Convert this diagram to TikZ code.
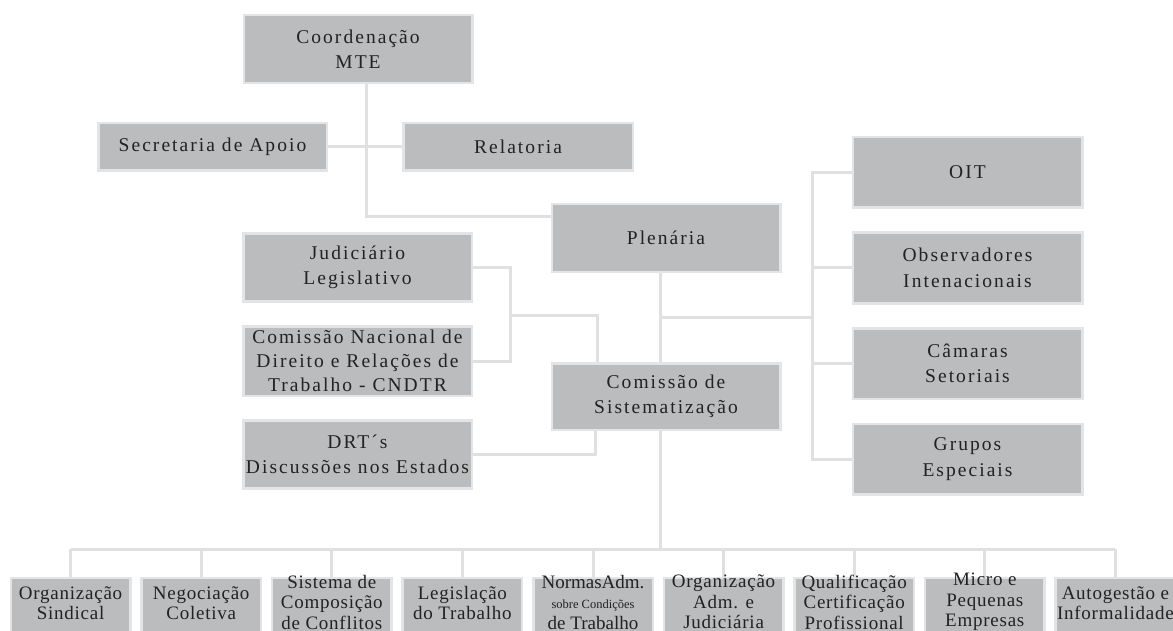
\documentclass[tikz,border=0pt]{standalone}
\usepackage{fontspec}
\setmainfont{Liberation Serif}
\newfontfamily\spacedserif[LetterSpace=10.5]{Liberation Serif}
\newfontfamily\slightserif[LetterSpace=4]{Liberation Serif}
\usetikzlibrary{backgrounds}
\definecolor{boxfill}{HTML}{BBBCBE}
\definecolor{boxedge}{HTML}{E3E4E5}
\definecolor{wirecol}{HTML}{E0E0E0}
\definecolor{txtcol}{HTML}{222222}
\begin{document}
\begin{tikzpicture}[x=1pt,y=-1pt,
  box/.style={draw=boxedge, line width=2.5pt, fill=boxfill, inner sep=0pt,
    minimum width=228.5pt, minimum height=68pt, align=center, text=txtcol,
    font=\spacedserif\fontsize{19.5}{25.5}\selectfont},
  lowbox/.style={draw=boxedge, line width=2.5pt, fill=boxfill, inner sep=0pt,
    minimum width=119.5pt, minimum height=62pt},
  lowtext/.style={inner sep=0pt, align=center, text=txtcol,
    font=\slightserif\fontsize{19}{20.5}\selectfont},
  wire/.style={draw=wirecol, line width=3pt}]
\useasboundingbox (0,0) rectangle (1173,631);

\coordinate (jm) at (510,315);
\coordinate (pm) at (660,317);
\coordinate (rb) at (812,317);
\coordinate (bus) at (660,549);

% top boxes
\node[box] (coord) at (358,49) {Coordenação\\MTE};
\node[box, minimum height=47.5pt] (sec) at (212.5,147) {Secretaria de Apoio};
\node[box, minimum height=47.5pt, minimum width=229.5pt] (rel) at (518,147) {Relatoria};
\node[box] (plen) at (666,238) {Plenária};
\node[box] (jud) at (357.5,267.5) {Judiciário\\Legislativo};
\node[box, minimum height=69.5pt, font=\spacedserif\fontsize{19.5}{24}\selectfont] (cndtr) at (357.5,361) {Comissão Nacional de\\Direito e Relações de\\Trabalho - CNDTR};
\node[box] (drt) at (357.5,454.5) {DRT´s\\Discussões nos Estados};
\node[box, minimum height=66.5pt] (sist) at (666,396.5) {Comissão de\\Sistematização};
\node[box, minimum height=70.5pt, minimum width=229.5pt] (oit) at (967.5,172.5) {OIT};
\node[box, minimum height=70.5pt, minimum width=229.5pt] (obs) at (967.5,268) {Observadores\\Intenacionais};
\node[box, minimum height=70.5pt, minimum width=229.5pt] (cam) at (967.5,363.5) {Câmaras\\Setoriais};
\node[box, minimum height=70.5pt, minimum width=229.5pt] (grp) at (967.5,459) {Grupos\\Especiais};

% bottom row
\foreach \i/\x in {1/70.6,2/201.2,3/331.8,4/462.4,5/593,6/723.6,7/854.2,8/984.8,9/1115.4}{
  \node[lowbox] (b\i) at (\x,609) {};
}
\node[lowtext] (t1) at (b1 |- 0,603) {Organização\\Sindical};
\node[lowtext] (t2) at (b2 |- 0,603) {Negociação\\Coletiva};
\node[lowtext] (t3) at (b3 |- 0,602) {Sistema de\\Composição\\de Conflitos};
\node[lowtext] (t4) at (b4 |- 0,603) {Legislação\\do Trabalho};
\node[lowtext, font=\rmfamily\fontsize{19}{20.5}\selectfont] (t5) at (b5 |- 0,602) {NormasAdm.\\{\fontsize{12.5}{14}\selectfont sobre Condições}\\de Trabalho};
\node[lowtext] (t6) at (b6 |- 0,602) {Organização\\Adm. e\\Judiciária};
\node[lowtext] (t7) at (b7 |- 0,602) {Qualificação\\Certificação\\Profissional};
\node[lowtext] (t8) at (b8 |- 0,602) {Micro e\\Pequenas\\Empresas};
\node[lowtext] (t9) at (b9 |- 0,603) {Autogestão e\\Informalidade};

% connectors
\begin{scope}[on background layer]
\draw[wire] ([xshift=8pt]coord.south) |- ([yshift=21pt]plen.west);
\draw[wire] (sec.east) -- (rel.west);
\draw[wire] (jud.east) -| (jm) |- (cndtr.east);
\draw[wire] (jm) -| ([xshift=-69pt]sist.north);
\draw[wire] (drt.east) -| ([xshift=-71pt]sist.south);
\draw[wire] ([xshift=-6pt]plen.south) -- ([xshift=-6pt]sist.north);
\draw[wire] (pm) -- (rb);
\draw[wire] (oit.west) -- (oit.west -| rb) -- (grp.west -| rb) -- (grp.west);
\draw[wire] (obs.west) -- (obs.west -| rb);
\draw[wire] (cam.west) -- (cam.west -| rb);
\draw[wire] ([xshift=-6pt]sist.south) -- (bus);
\draw[wire] (b1.north |- bus) -- (b9.north |- bus);
\foreach \i in {1,...,9}{
  \draw[wire] (b\i.north |- bus) -- (b\i.north);
}
\end{scope}
\end{tikzpicture}
\end{document}
